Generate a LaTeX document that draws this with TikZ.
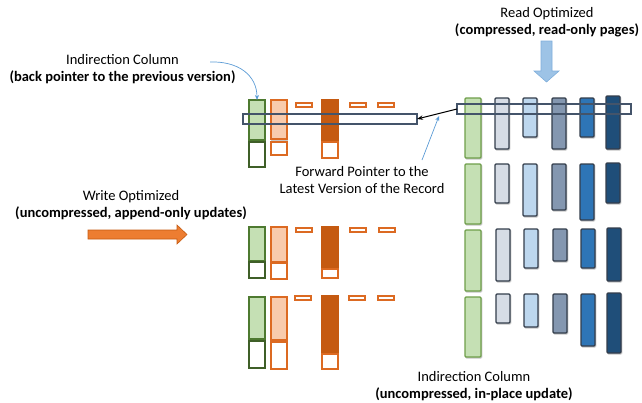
\documentclass[tikz,border=0pt]{standalone}
\usepackage{fontspec}
\setmainfont{Carlito}
\usetikzlibrary{arrows.meta}
\definecolor{grfill}{HTML}{C5E0B4}
\definecolor{grdark}{HTML}{4E7A30}
\definecolor{grdeep}{HTML}{3F5F28}
\definecolor{grlight}{HTML}{6E9E4A}
\definecolor{pefill}{HTML}{F8CBAD}
\definecolor{orline}{HTML}{DC6A22}
\definecolor{ordark}{HTML}{C55A11}
\definecolor{bA}{HTML}{D6DCE5}
\definecolor{bB}{HTML}{BDD7EE}
\definecolor{bC}{HTML}{8497B0}
\definecolor{bD}{HTML}{2E75B6}
\definecolor{bE}{HTML}{1F4E79}
\definecolor{bline}{HTML}{333D4B}
\definecolor{hline}{HTML}{44546A}
\definecolor{ptrblue}{HTML}{5B9BD5}
\definecolor{arrblue}{HTML}{9DC3E6}
\definecolor{arrblueline}{HTML}{7FAEDB}
\definecolor{orarrow}{HTML}{ED7D31}
\definecolor{shadowgray}{HTML}{C8C8C8}
\tikzset{
  colbase/.style={anchor=north west, inner sep=0pt, outer sep=0pt, line width=1.3pt},
  shad/.style={preaction={draw=shadowgray, fill=shadowgray, transform canvas={xshift=0.8pt, yshift=-1pt}}},
  gcol/.style={colbase, fill=grfill, draw=grdark, shad},
  gbox/.style={colbase, fill=white, draw=grdeep},
  pcol/.style={colbase, fill=pefill, draw=orline, shad},
  obox/.style={colbase, fill=white, draw=orline},
  ocol/.style={colbase, fill=ordark, draw=ordark, shad},
  obar/.style={colbase, fill=white, draw=orline, line width=1.1pt},
  rgcol/.style={colbase, fill=grfill, draw=grlight, rounded corners=1pt, shad},
  rbcol/.style={colbase, draw=bline, rounded corners=1pt, shad},
  hrec/.style={colbase, draw=hline, line width=1.2pt},
  lbl/.style={align=center, inner sep=0pt, font=\fontsize{14.5}{17}\selectfont},
  ptr/.style={draw=ptrblue, line width=0.7pt, -{Stealth[length=5pt,width=4pt]}},
}
\newcommand\bx[6]{\node[#6, minimum width={(#4-#2)*1pt}, minimum height={(#5-#3)*1pt}] (#1) at (#2,#3) {};}
\begin{document}
\begin{tikzpicture}[x=1pt,y=-1pt]
\useasboundingbox (0,0) rectangle (642,402);
% ---- left groups ----
% group 1
\bx{g1a}{249}{100}{265}{140}{gcol}
\bx{g1b}{249}{142}{265}{167}{gbox}
\bx{p1a}{271}{100}{287}{139}{pcol}
\bx{p1b}{271}{142}{287}{155}{obox}
\bx{d1a}{296}{103}{312}{107}{obar}
\bx{o1a}{322}{100}{338}{140}{ocol}
\bx{o1b}{322}{142}{338}{158}{obox}
\bx{d1b}{350}{103}{366}{107}{obar}
\bx{d1c}{378}{103}{394}{107}{obar}
% group 2
\bx{g2a}{249}{227}{265}{261}{gcol}
\bx{g2b}{249}{262}{265}{278}{gbox}
\bx{p2a}{271}{227}{287}{262}{pcol}
\bx{p2b}{271}{263}{287}{279}{obox}
\bx{d2a}{296}{228}{312}{232}{obar}
\bx{o2a}{322}{227}{338}{268}{ocol}
\bx{o2b}{322}{269}{338}{278}{obox}
\bx{d2b}{350}{228}{366}{232}{obar}
\bx{d2c}{379}{228}{395}{232}{obar}
% group 3
\bx{g3a}{249}{297}{265}{339}{gcol}
\bx{g3b}{249}{341}{265}{368}{gbox}
\bx{p3a}{271}{297}{287}{340}{pcol}
\bx{p3b}{271}{342}{287}{369}{obox}
\bx{d3a}{295}{296}{311}{300}{obar}
\bx{o3a}{322}{296}{338}{352}{ocol}
\bx{o3b}{322}{354}{338}{369}{obox}
\bx{d3b}{349}{296}{365}{300}{obar}
\bx{d3c}{378}{296}{394}{300}{obar}
% ---- right side ----
\bx{r1g}{465}{98}{481}{158}{rgcol}
\bx{r1a}{495}{98}{509}{149}{rbcol,fill=bA}
\bx{r1b}{523}{98}{537}{137}{rbcol,fill=bB}
\bx{r1c}{552}{98}{566}{149}{rbcol,fill=bC}
\bx{r1d}{580}{98}{594}{137}{rbcol,fill=bD}
\bx{r1e}{606}{96}{620}{149}{rbcol,fill=bE}
\bx{r2g}{465}{164}{481}{224}{rgcol}
\bx{r2a}{495}{164}{509}{203}{rbcol,fill=bA}
\bx{r2b}{523}{164}{537}{216}{rbcol,fill=bB}
\bx{r2c}{552}{164}{566}{210}{rbcol,fill=bC}
\bx{r2d}{580}{164}{594}{220}{rbcol,fill=bD}
\bx{r2e}{606}{163}{620}{203}{rbcol,fill=bE}
\bx{r3g}{465}{230}{481}{291}{rgcol}
\bx{r3a}{496}{229}{510}{281}{rbcol,fill=bA}
\bx{r3b}{524}{229}{538}{268}{rbcol,fill=bB}
\bx{r3c}{553}{229}{567}{261}{rbcol,fill=bC}
\bx{r3d}{581}{229}{595}{268}{rbcol,fill=bD}
\bx{r3e}{607}{228}{621}{281}{rbcol,fill=bE}
\bx{r4g}{465}{297}{481}{357}{rgcol}
\bx{r4a}{496}{294}{510}{323}{rbcol,fill=bA}
\bx{r4b}{524}{294}{538}{327}{rbcol,fill=bB}
\bx{r4c}{553}{294}{567}{333}{rbcol,fill=bC}
\bx{r4d}{581}{294}{595}{346}{rbcol,fill=bD}
\bx{r4e}{607}{293}{621}{353}{rbcol,fill=bE}
% ---- horizontal record boxes ----
\bx{lrec}{243}{114}{417}{124}{hrec}
\bx{rrec}{457}{104}{631}{114}{hrec}
% forward pointer
\draw[black, line width=1pt, -{Stealth[length=6pt,width=4.5pt]}] (rrec.west) -- coordinate[pos=0.45] (fpmid) (lrec.east);
% ---- texts ----
\node[lbl] (ictop) at (122.5,69.5) {Indirection Column\\\textbf{(back pointer to the previous version)}};
\node[lbl] (fwd) at (362,180.5) {Forward Pointer to the\\Latest Version of the Record};
\node[lbl] (wo) at (131,205.5) {Write Optimized\\\textbf{(uncompressed, append-only updates)}};
\node[lbl] (ro) at (547,22.5) {Read Optimized\\\textbf{(compressed, read-only pages)}};
\node[lbl] (icbot) at (474,386) {Indirection Column\\\textbf{(uncompressed, in-place update)}};
% ---- blue pointers ----
\coordinate (icstart) at (210,62);
\draw[ptr] (icstart) .. controls (238,61) and (257,75) .. (g1a.north);
\coordinate (fpstart) at (422,160);
\draw[ptr] (fpstart) -- ([yshift=-2.5pt]fpmid);
% ---- block arrows ----
\draw[fill=orarrow, draw=ordark, line width=0.6pt] (88,230) -- (177,230) -- (177,225) -- (187,234.5) -- (177,244) -- (177,239) -- (88,239) -- cycle;
\draw[fill=arrblue, draw=arrblueline, line width=0.6pt] (541,41) -- (552,41) -- (552,71) -- (559,71) -- (546.5,82) -- (534,71) -- (541,71) -- cycle;
\end{tikzpicture}
\end{document}
